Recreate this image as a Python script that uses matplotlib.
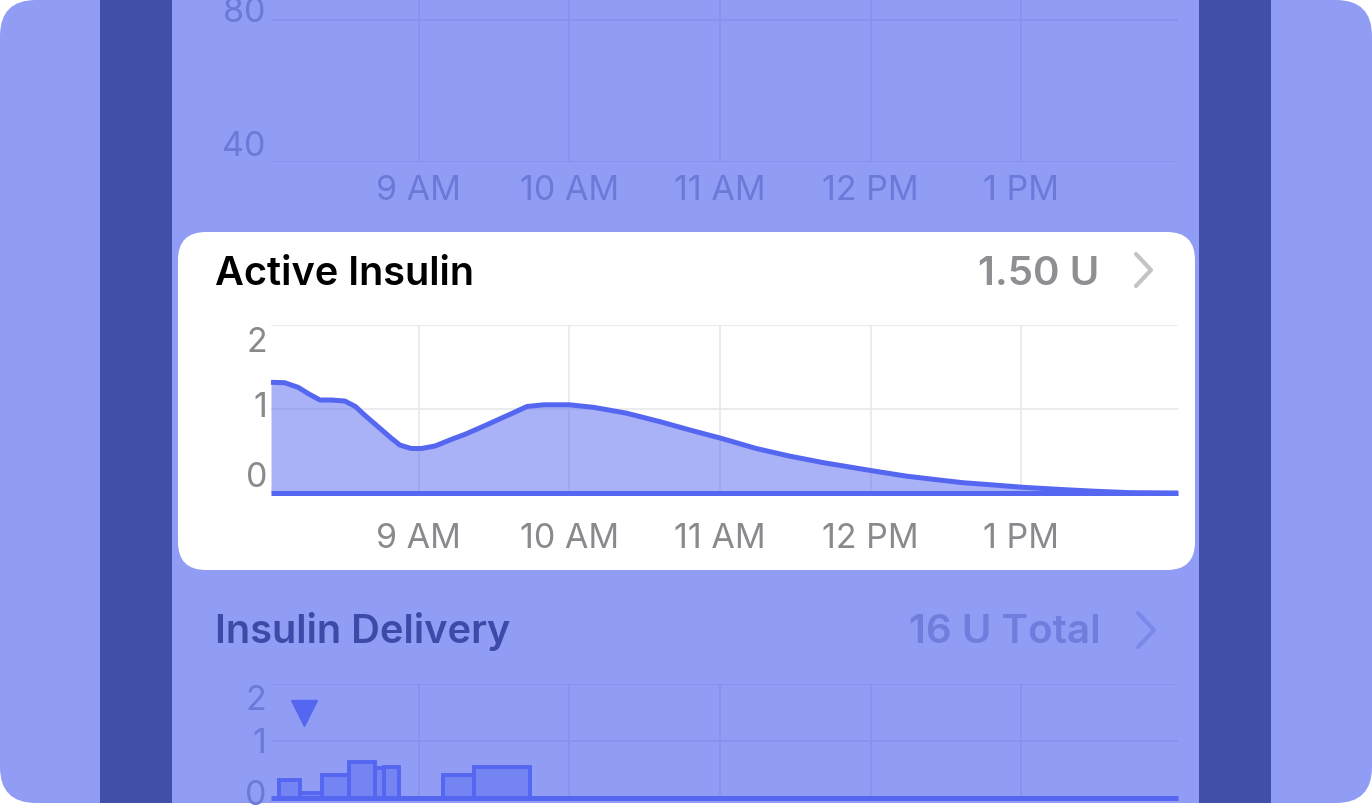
import numpy as np
import matplotlib
matplotlib.use("Agg")
import matplotlib.pyplot as plt
import matplotlib.colors as mcolors
from matplotlib.patches import FancyBboxPatch, Rectangle
from matplotlib.transforms import offset_copy

plt.rcParams['font.family'] = ['Inter', 'DejaVu Sans']

# active insulin curve (hours of day, units)
ai_hours = [8.02, 8.11, 8.20, 8.27, 8.345, 8.42, 8.51, 8.58, 8.64, 8.73, 8.82, 8.876,
            8.95, 9.02, 9.11, 9.22, 9.31, 9.45, 9.61, 9.72, 9.83, 10.0, 10.16, 10.38,
            10.60, 10.80, 11.01, 11.24, 11.46, 11.69, 12.01, 12.24, 12.44, 12.61,
            12.84, 13.01, 13.28, 13.50, 13.72, 14.04]
ai_units = [1.318, 1.313, 1.258, 1.18, 1.107, 1.107, 1.095, 1.03, 0.93, 0.79, 0.65, 0.57,
            0.53, 0.53, 0.56, 0.64, 0.70, 0.81, 0.94, 1.03, 1.05, 1.05, 1.02, 0.95,
            0.85, 0.75, 0.65, 0.53, 0.44, 0.36, 0.265, 0.20, 0.158, 0.123,
            0.092, 0.068, 0.04, 0.02, 0.004, 0.0]

# insulin delivery segments (start, end, U/hr)
del_start = [8.07, 8.21, 8.36, 8.54, 8.71, 8.77, 9.16, 9.37]
del_end = [8.21, 8.36, 8.54, 8.71, 8.77, 8.87, 9.37, 9.74]
del_rate = [0.32, 0.09, 0.40, 0.63, 0.52, 0.55, 0.40, 0.55]
bolus_time = [8.24]
bolus_units = [1.49]

hour_ticks = [9, 10, 11, 12, 13]
hour_labels = ["9 AM", "10 AM", "11 AM", "12 PM", "1 PM"]

LAV = "#919CF5"
DARK = "#424FA8"
LINE = "#5567F1"
GRID_CARD = "#E8E8EA"
TICK_CARD = "#8A8A8E"
FADED_TEXT = "#6D79D8"
FADED_GRID = "#8792EC"

W, H = 1372, 806
fig = plt.figure(figsize=(W / 100, H / 100), dpi=100)
fig.patch.set_facecolor("white")

ui = fig.add_axes([0, 0, 1, 1])
ui.set_xlim(0, W)
ui.set_ylim(H, 0)
ui.axis("off")
ui.set_zorder(0)

ui.add_patch(FancyBboxPatch((0, 0), W, 803, boxstyle="round,pad=0,rounding_size=36",
                            fc=LAV, ec="none"))
ui.add_patch(Rectangle((100, 0), 72, 803, fc=DARK, ec="none"))
ui.add_patch(Rectangle((1199, 0), 72, 803, fc=DARK, ec="none"))
ui.add_patch(FancyBboxPatch((178, 232), 1017, 338, boxstyle="round,pad=0,rounding_size=28",
                            fc="white", ec="none"))

ui.text(215, 285, "Active Insulin", fontsize=28.6, fontweight="semibold",
        color="black", va="baseline", ha="left")
ui.text(1099, 285, "1.50 U", fontsize=29, fontweight="semibold",
        color="#8E8E93", va="baseline", ha="right")
ui.plot([1136, 1151, 1136], [254, 270, 286], color="#C4C4C7", lw=3,
        solid_capstyle="round", solid_joinstyle="round")

ui.text(215, 643, "Insulin Delivery", fontsize=28.7, fontweight="semibold",
        color="#3E4AA8", va="baseline", ha="left")
ui.text(1101, 643, "16 U Total", fontsize=29, fontweight="semibold",
        color="#717DDC", va="baseline", ha="right")
ui.plot([1138, 1154, 1138], [613, 630, 647], color="#7D89E9", lw=3,
        solid_capstyle="round", solid_joinstyle="round")


def px_axes(left, top, right, bottom):
    ax = fig.add_axes([left / W, 1 - bottom / H, (right - left) / W, (bottom - top) / H])
    ax.set_zorder(1)
    ax.patch.set_alpha(0)
    for s in ax.spines.values():
        s.set_visible(False)
    ax.tick_params(length=0, labelbottom=False, labelleft=False)
    return ax


def y_labels(ax, vals, dys, dx, color):
    for v, dy in zip(vals, dys):
        tr = offset_copy(ax.get_yaxis_transform(), fig=fig, x=dx, y=-dy, units="dots")
        ax.text(0, v, f"{v:g}", transform=tr, ha="right", va="baseline",
                fontsize=24.5, color=color)


def x_labels(ax, dy, color):
    tr = offset_copy(ax.get_xaxis_transform(), fig=fig, x=0, y=-dy, units="dots")
    for h, lab in zip(hour_ticks, hour_labels):
        ax.text(h, 0, lab, transform=tr, ha="center", va="baseline",
                fontsize=24.5, color=color)


# faded glucose chart at the top
ax_top = px_axes(271, 0, 1178, 162)
ax_top.set_xlim(ai_hours[0], ai_hours[-1])
ax_top.set_ylim(40, 85.5)
ax_top.set_xticks(hour_ticks)
ax_top.set_yticks([40, 80])
ax_top.grid(color=FADED_GRID, lw=1.2)
y_labels(ax_top, [80, 40], [2.5, -6], -6, FADED_TEXT)
x_labels(ax_top, 38, FADED_TEXT)

# active insulin card chart
ax_ai = px_axes(271, 325, 1178, 493)
ax_ai.set_xlim(ai_hours[0], ai_hours[-1])
ax_ai.set_ylim(0, 2)
ax_ai.set_xticks(hour_ticks)
ax_ai.set_yticks([1, 2])
ax_ai.grid(color=GRID_CARD, lw=1.2)
ax_ai.set_axisbelow(True)
ax_ai.fill_between(ai_hours, ai_units, color=LINE, alpha=0.5, lw=0)
ax_ai.plot(ai_hours, ai_units, color=LINE, lw=3.6, solid_joinstyle="round",
           solid_capstyle="butt", clip_on=False)
ax_ai.axhline(0, color=LINE, lw=3.6, clip_on=False, solid_capstyle="butt")
y_labels(ax_ai, [2, 1, 0], [27, 8, -6], -4, TICK_CARD)
x_labels(ax_ai, 55, TICK_CARD)

# faded insulin delivery chart
ax_del = px_axes(271, 684, 1178, 798)
ax_del.set_xlim(ai_hours[0], ai_hours[-1])
ax_del.set_ylim(0, 2)
ax_del.set_xticks(hour_ticks)
ax_del.set_yticks([1, 2])
ax_del.grid(color=FADED_GRID, lw=1.2)
ax_del.set_axisbelow(True)
widths = np.array(del_end) - np.array(del_start)
ax_del.bar(del_start, del_rate, width=widths, align="edge",
           facecolor=mcolors.to_rgba(LINE, 0.45), edgecolor=LINE, linewidth=2.8)
ax_del.axhline(0, color=LINE, lw=3.6, clip_on=False, solid_capstyle="butt")
ax_del.plot(bolus_time, bolus_units, marker="v", ms=19, color=LINE, ls="none")
y_labels(ax_del, [2, 1, 0], [26, 12, 7], -5, FADED_TEXT)

fig.savefig("out.png", dpi=100, facecolor="white")
